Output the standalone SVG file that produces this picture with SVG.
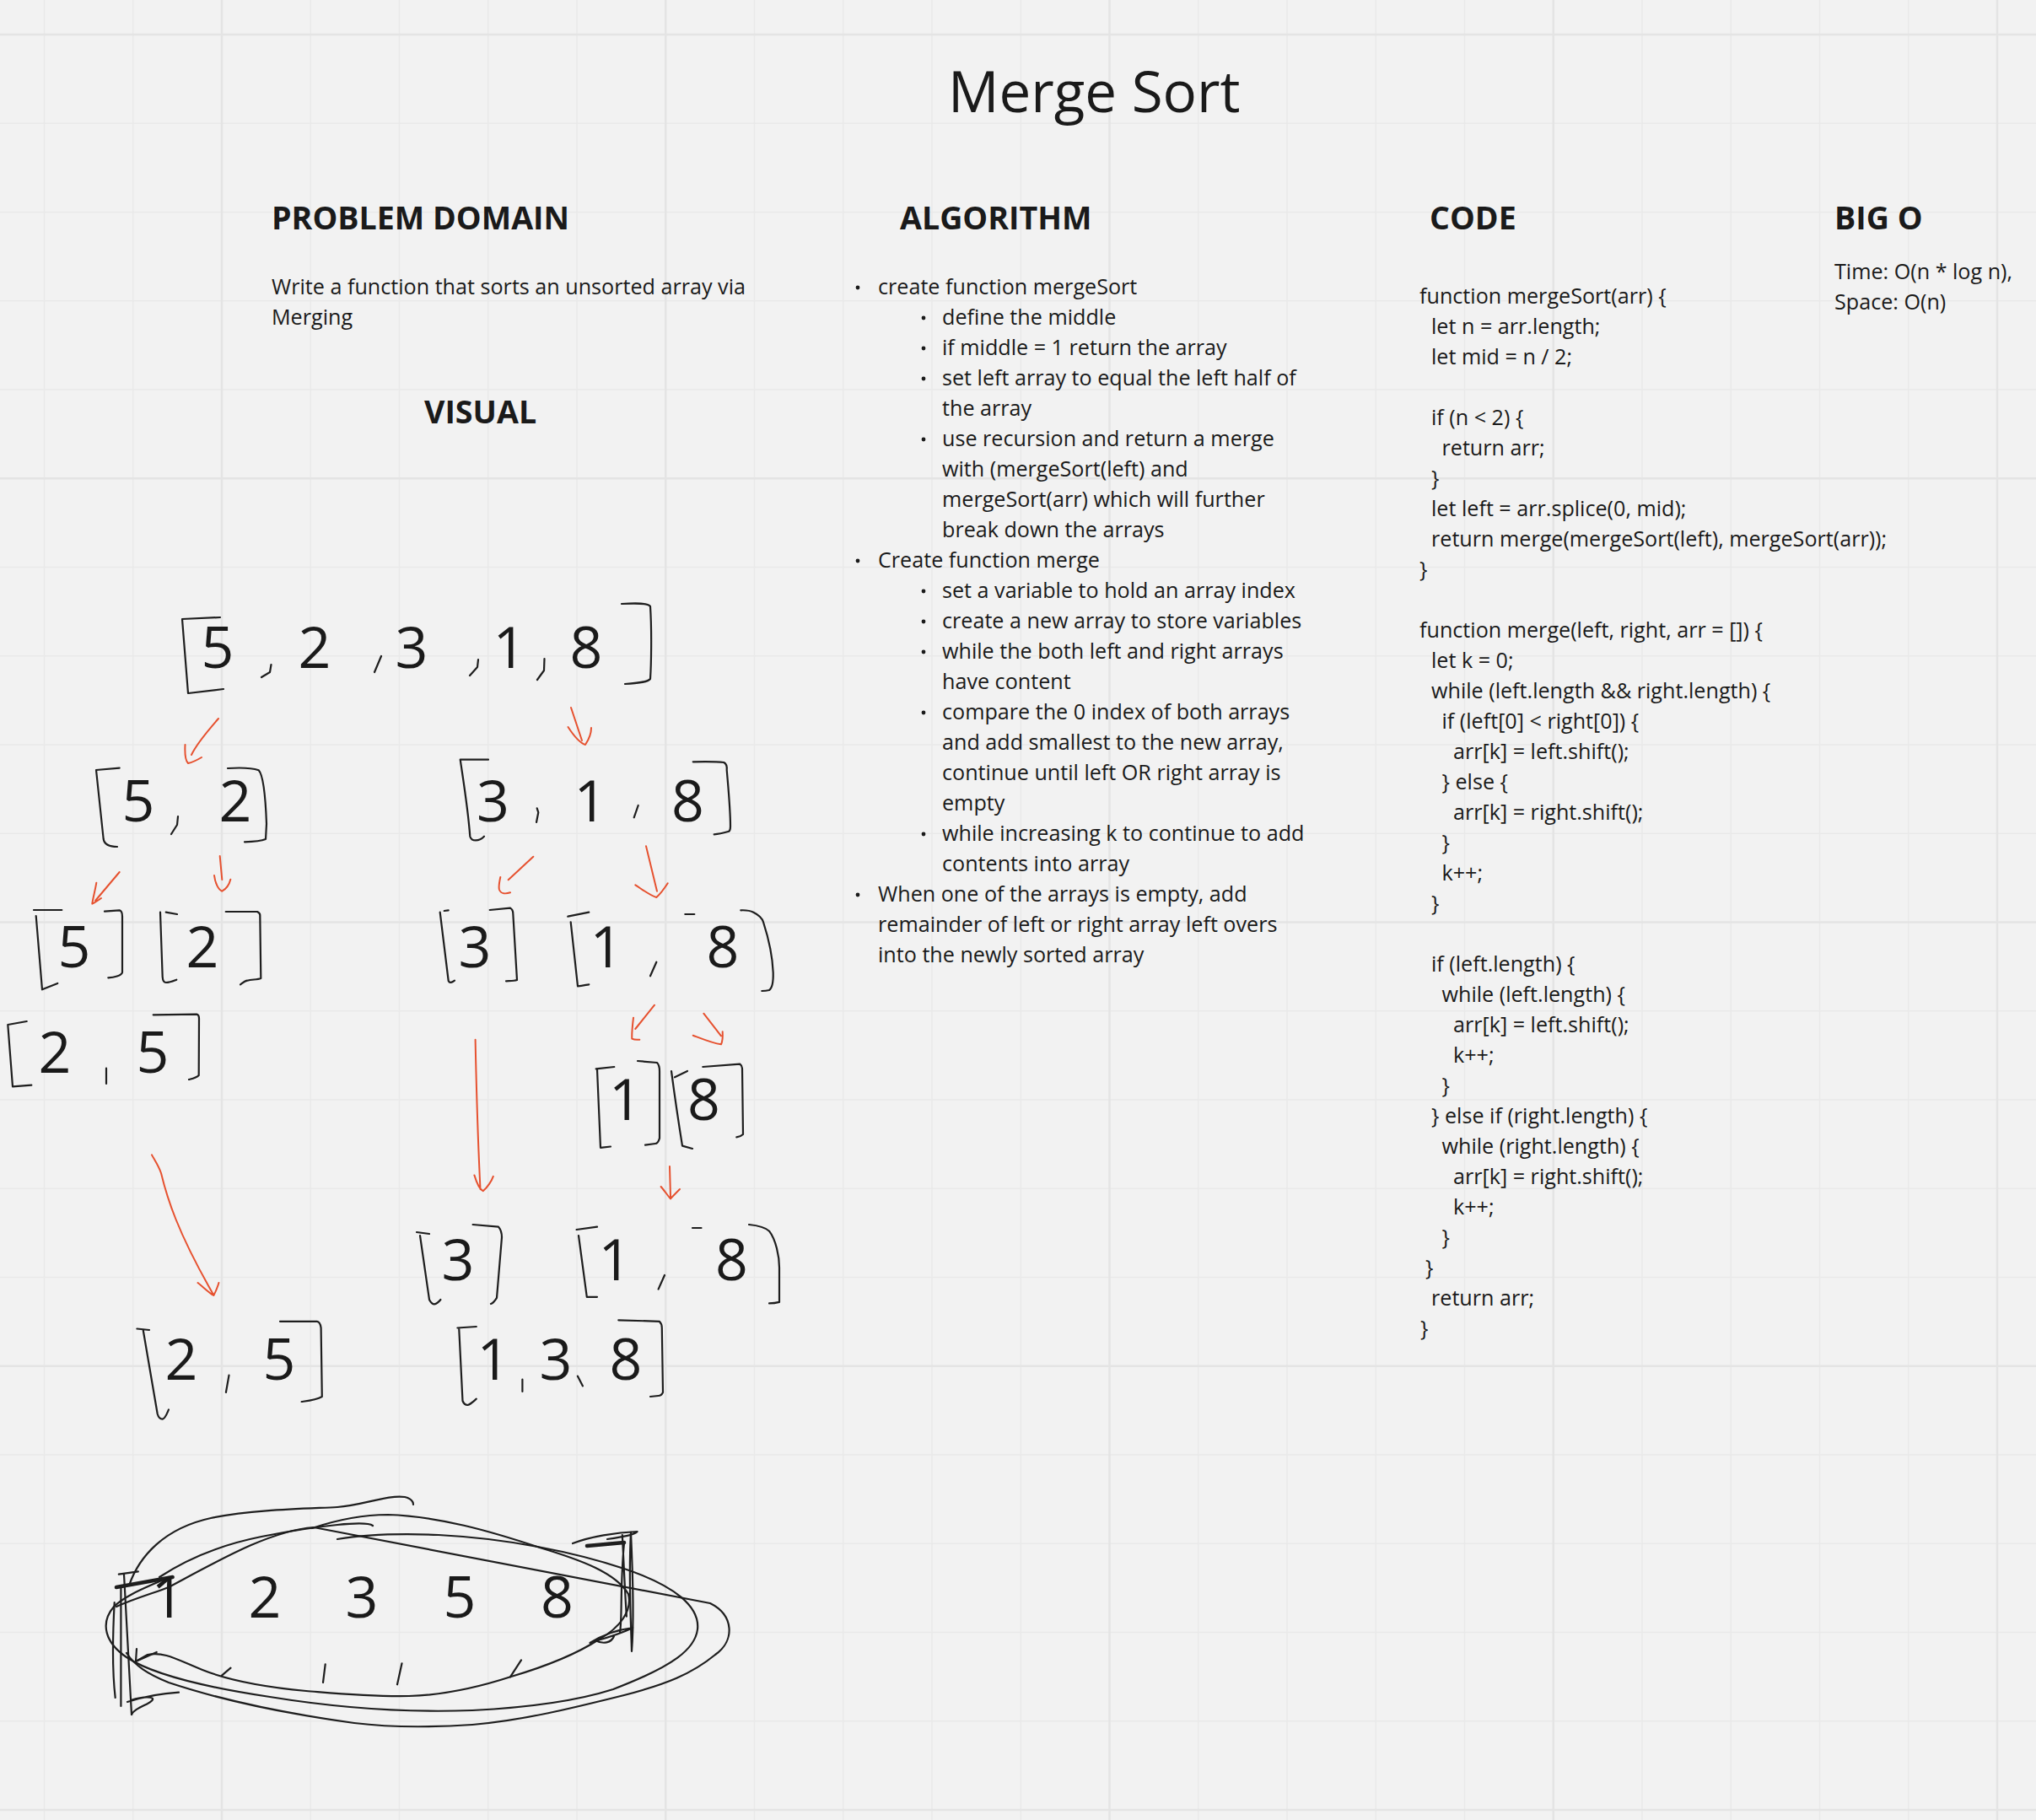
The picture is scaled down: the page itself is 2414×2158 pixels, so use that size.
<svg xmlns="http://www.w3.org/2000/svg" width="2414" height="2158" viewBox="0 0 2414 2158">
<style>
text{font-family:"Open Sans","Liberation Sans",sans-serif;fill:#1a1a1a}
.title{font-size:67.3px}
.hdr{font-size:37.6px;font-weight:700}
.body{font-size:25.15px}
.num{font-size:68px;text-anchor:middle}
.ink{fill:none;stroke:#1e1e1e;stroke-width:2.2;stroke-linecap:round;stroke-linejoin:round}
.thick{fill:none;stroke:#1e1e1e;stroke-width:4.5;stroke-linecap:round}
.red{fill:none;stroke:#e6512f;stroke-width:2;stroke-linecap:round;stroke-linejoin:round}
.bul{fill:#1a1a1a}
.gmin{stroke:#e9e9e9;stroke-width:1.5;fill:none}
.gmaj{stroke:#e4e4e4;stroke-width:2.5;fill:none}
</style>
<rect x="0" y="0" width="2414" height="2158" fill="#f2f2f2"/>
<g id="grid">
<path class="gmin" d="M52.5,0V2158M157.75,0V2158M368.25,0V2158M473.5,0V2158M578.75,0V2158M684,0V2158M894.5,0V2158M999.75,0V2158M1105,0V2158M1210.25,0V2158M1420.75,0V2158M1526,0V2158M1631.25,0V2158M1736.5,0V2158M1947,0V2158M2052.25,0V2158M2157.5,0V2158M2262.75,0V2158M0,146.25H2414M0,251.5H2414M0,356.75H2414M0,462H2414M0,672.5H2414M0,777.75H2414M0,883H2414M0,988.25H2414M0,1198.75H2414M0,1304H2414M0,1409.25H2414M0,1514.5H2414M0,1725H2414M0,1830.25H2414M0,1935.5H2414M0,2040.75H2414"/>
<path class="gmaj" d="M263,0V2158M789.25,0V2158M1315.5,0V2158M1841.75,0V2158M2368,0V2158M0,41H2414M0,567.25H2414M0,1093.5H2414M0,1619.75H2414M0,2146H2414"/>
</g>
<g id="title"><text class="title" x="1124" y="133">Merge Sort</text></g>
<g id="problem-domain">
<text class="hdr" x="322" y="272">PROBLEM DOMAIN</text>
<text class="body" x="322" y="349">Write a function that sorts an unsorted array via</text>
<text class="body" x="322" y="385">Merging</text>
</g>
<g id="algorithm">
<text class="hdr" x="1067" y="272">ALGORITHM</text>
<circle class="bul" cx="1017" cy="341" r="2.4"/>
<circle class="bul" cx="1095" cy="377" r="2.4"/>
<circle class="bul" cx="1095" cy="413" r="2.4"/>
<circle class="bul" cx="1095" cy="449" r="2.4"/>
<circle class="bul" cx="1095" cy="521" r="2.4"/>
<circle class="bul" cx="1017" cy="665" r="2.4"/>
<circle class="bul" cx="1095" cy="701" r="2.4"/>
<circle class="bul" cx="1095" cy="737" r="2.4"/>
<circle class="bul" cx="1095" cy="773" r="2.4"/>
<circle class="bul" cx="1095" cy="845" r="2.4"/>
<circle class="bul" cx="1095" cy="989" r="2.4"/>
<circle class="bul" cx="1017" cy="1061" r="2.4"/>
<text class="body" x="1041" y="349">create function mergeSort</text>
<text class="body" x="1117" y="385">define the middle</text>
<text class="body" x="1117" y="421">if middle = 1 return the array</text>
<text class="body" x="1117" y="457">set left array to equal the left half of</text>
<text class="body" x="1117" y="493">the array</text>
<text class="body" x="1117" y="529">use recursion and return a merge</text>
<text class="body" x="1117" y="565">with (mergeSort(left) and</text>
<text class="body" x="1117" y="601">mergeSort(arr) which will further</text>
<text class="body" x="1117" y="637">break down the arrays</text>
<text class="body" x="1041" y="673">Create function merge</text>
<text class="body" x="1117" y="709">set a variable to hold an array index</text>
<text class="body" x="1117" y="745">create a new array to store variables</text>
<text class="body" x="1117" y="781">while the both left and right arrays</text>
<text class="body" x="1117" y="817">have content</text>
<text class="body" x="1117" y="853">compare the 0 index of both arrays</text>
<text class="body" x="1117" y="889">and add smallest to the new array,</text>
<text class="body" x="1117" y="925">continue until left OR right array is</text>
<text class="body" x="1117" y="961">empty</text>
<text class="body" x="1117" y="997">while increasing k to continue to add</text>
<text class="body" x="1117" y="1033">contents into array</text>
<text class="body" x="1041" y="1069">When one of the arrays is empty, add</text>
<text class="body" x="1041" y="1105">remainder of left or right array left overs</text>
<text class="body" x="1041" y="1141">into the newly sorted array</text>
</g>
<g id="code">
<text class="hdr" x="1695" y="272">CODE</text>
<text class="body" x="1683" y="360">function mergeSort(arr) {</text>
<text class="body" x="1697" y="396">let n = arr.length;</text>
<text class="body" x="1697" y="432">let mid = n / 2;</text>
<text class="body" x="1697" y="504">if (n &lt; 2) {</text>
<text class="body" x="1709.5" y="540">return arr;</text>
<text class="body" x="1697" y="576">}</text>
<text class="body" x="1697" y="612">let left = arr.splice(0, mid);</text>
<text class="body" x="1697" y="648">return merge(mergeSort(left), mergeSort(arr));</text>
<text class="body" x="1683" y="684">}</text>
<text class="body" x="1683" y="756">function merge(left, right, arr = []) {</text>
<text class="body" x="1697" y="792">let k = 0;</text>
<text class="body" x="1697" y="828">while (left.length &amp;&amp; right.length) {</text>
<text class="body" x="1709.5" y="864">if (left[0] &lt; right[0]) {</text>
<text class="body" x="1723" y="900">arr[k] = left.shift();</text>
<text class="body" x="1709.5" y="936">} else {</text>
<text class="body" x="1723" y="972">arr[k] = right.shift();</text>
<text class="body" x="1709.5" y="1008">}</text>
<text class="body" x="1709.5" y="1044">k++;</text>
<text class="body" x="1697" y="1080">}</text>
<text class="body" x="1697" y="1152">if (left.length) {</text>
<text class="body" x="1709.5" y="1188">while (left.length) {</text>
<text class="body" x="1723" y="1224">arr[k] = left.shift();</text>
<text class="body" x="1723" y="1260">k++;</text>
<text class="body" x="1709.5" y="1296">}</text>
<text class="body" x="1697" y="1332">} else if (right.length) {</text>
<text class="body" x="1709.5" y="1368">while (right.length) {</text>
<text class="body" x="1723" y="1404">arr[k] = right.shift();</text>
<text class="body" x="1723" y="1440">k++;</text>
<text class="body" x="1709.5" y="1476">}</text>
<text class="body" x="1690" y="1512">}</text>
<text class="body" x="1697" y="1548">return arr;</text>
<text class="body" x="1684" y="1584">}</text>
</g>
<g id="big-o">
<text class="hdr" x="2175" y="272">BIG O</text>
<text class="body" x="2175" y="331">Time: O(n * log n),</text>
<text class="body" x="2175" y="367">Space: O(n)</text>
</g>
<g id="visual-label"><text class="hdr" x="503" y="502">VISUAL</text></g>
<g id="array-53218">
<path class="ink" d="M261,732 L216,734 L223,822 L265,817"/>
<path class="ink" d="M737,716 C755,715 768,715 771,719 C773,750 772,790 771,805 C768,809 755,810 741,811"/>
<path class="ink" d="M321.5,788 L320,797 L310,803 M452,778 L444,797 M567,782 L566,791 L557,801 M645.5,781 L645,795 L637,806"/>
<text class="num" x="258" y="792">5</text><text class="num" x="373" y="792">2</text><text class="num" x="488" y="792">3</text><text class="num" x="604" y="792">1</text><text class="num" x="695" y="792">8</text>
</g>
<g id="array-52">
<path class="ink" d="M141.7,910.7 L114,913 L122.7,995 C124,1002 130,1004 139,1004"/>
<path class="ink" d="M211,968 L210,978 L203,989"/>
<path class="ink" d="M270,911 C285,910 300,911 306.7,913.3 C313,920 315,950 316,976.7 L315,995 C310,997 300,998 290,998.3"/>
<text class="num" x="164" y="974">5</text><text class="num" x="279" y="974">2</text>
</g>
<g id="array-318">
<path class="ink" d="M579,900.7 L545.7,900.7 C550,930 555,960 557.3,991.7 C559,998 568,998 574,991.7"/>
<path class="ink" d="M636.7,958.3 L638.3,963.3 L636,975 M756.7,955 L751.7,969.3"/>
<path class="ink" d="M821.7,903.3 C835,903 850,903 858.3,904 C862,906 862,910 861.7,913 C864,940 866,960 866,980 C866,985 864,986 863.3,986 C856,988 850,989 846.7,989.3"/>
<text class="num" x="584.5" y="974">3</text><text class="num" x="700" y="974">1</text><text class="num" x="815.5" y="974">8</text>
</g>
<g id="array-5">
<path class="ink" d="M40,1079 L73.3,1079 M42.7,1086 L50,1173.3 L68.3,1166"/>
<path class="ink" d="M124,1080.7 L141.7,1079.3 C144,1080 145,1083 145,1086.7 L145,1153 C144,1157 135,1159 128.3,1159.3"/>
<text class="num" x="88" y="1147">5</text>
</g>
<g id="array-2">
<path class="ink" d="M196.7,1081.7 L210,1084 M190,1081.7 L192.7,1158.3 C193,1163 195,1165 196.7,1165 C202,1165 206,1163 209.3,1161.7"/>
<path class="ink" d="M267.7,1081 L305,1081 C307,1082 308.3,1083 308.3,1085 L309.3,1160 C305,1162 298,1161 293.3,1162.7 C290,1163 287,1166 285,1167.3"/>
<text class="num" x="240" y="1147">2</text>
</g>
<g id="array-3">
<path class="ink" d="M526.7,1080 L531.7,1079.3 M521.7,1081.7 L531.7,1163 C533,1166 536,1165 539,1162.7"/>
<path class="ink" d="M580.7,1079 L605,1076.7 C607,1078 608.3,1080 608.3,1083.3 L613,1162 C610,1163 605,1163 600,1163.3"/>
<text class="num" x="563" y="1147">3</text>
</g>
<g id="array-18">
<path class="ink" d="M673.3,1086.7 L698.3,1081.7 M676.7,1093.3 L685,1169.3 C690,1169 694,1168 698.3,1167.3"/>
<path class="ink" d="M778.3,1140.7 L771,1157.3 M812.3,1084 L823.3,1084"/>
<path class="ink" d="M878.3,1079.3 C885,1079 890,1080 893.3,1081.7 C900,1085 904,1090 905,1093.3 C912,1115 916,1135 916.7,1153.3 C917,1165 915,1172 912,1174 C908,1175 905,1175 903.3,1175"/>
<text class="num" x="719" y="1147">1</text><text class="num" x="857" y="1147">8</text>
</g>
<g id="array-25-a">
<path class="ink" d="M31.7,1211 L9.3,1215 L15,1288.3 L37.3,1286.7"/>
<path class="ink" d="M126,1266.7 L126,1285"/>
<path class="ink" d="M181.7,1203.3 L233.3,1202.7 C235,1203 236,1205 236,1208 L235.7,1275 C233,1278 228,1279 224,1280"/>
<text class="num" x="65" y="1272">2</text><text class="num" x="181" y="1272">5</text>
</g>
<g id="array-1">
<path class="ink" d="M706.7,1267.3 L728.3,1265 M708,1268 L712,1360.8 L724,1359.5"/>
<path class="ink" d="M756,1258 L779,1260 C781,1262 782,1265 782,1270 L782,1349.6 C781,1353 779,1356 777,1356 L765,1357.7"/>
<text class="num" x="741.5" y="1328">1</text>
</g>
<g id="array-8">
<path class="ink" d="M800,1277.3 L815,1270 M796,1270 C800,1300 806,1340 809,1358.6 L821,1362"/>
<path class="ink" d="M833.3,1265 L877.3,1261.7 C879,1263 880,1264 880,1266.7 L881,1345 C879,1347 876,1348 873.3,1348.3"/>
<text class="num" x="834.5" y="1328">8</text>
</g>
<g id="array-3-b">
<path class="ink" d="M494,1461 L509,1463 M498,1465 L509,1541 C511,1545 513,1546.4 515,1546.4 C518,1546 520,1544 522.4,1541"/>
<path class="ink" d="M560.6,1452 L591,1454.6 C593,1457 595,1462 595,1467 L589,1538.8 C587,1542 585,1545 582,1546"/>
<text class="num" x="543" y="1518">3</text>
</g>
<g id="array-18-b">
<path class="ink" d="M683.6,1458 L708,1454.6 M686,1465 L695.8,1537.8 L708,1537.8"/>
<path class="ink" d="M788,1512 L780.6,1528.6 M821,1456 L831.5,1456"/>
<path class="ink" d="M888,1452 C898,1453 907,1455 912,1459.7 C920,1470 924,1490 924,1503 L924,1543.9 C920,1545 916,1545.4 912,1545.4"/>
<text class="num" x="729" y="1518">1</text><text class="num" x="867.5" y="1518">8</text>
</g>
<g id="array-25-b">
<path class="ink" d="M162.4,1575.5 L177,1577 M169.7,1577 L186.7,1676.5 C188,1681 190,1682.7 192.7,1682.7 C196,1682 198,1676 200,1671.4"/>
<path class="ink" d="M271.5,1630.6 L267.9,1651"/>
<path class="ink" d="M332,1566.8 L375.8,1566.8 C378,1567 380,1570 380.6,1574.5 L381.8,1656 C375,1660 365,1661 357.6,1662"/>
<text class="num" x="215" y="1636">2</text><text class="num" x="331" y="1636">5</text>
</g>
<g id="array-138">
<path class="ink" d="M542.4,1574.5 L564.8,1573 M544.2,1574.5 L548.5,1661 C550,1665 552,1666 554.5,1666 C558,1665 561,1662 564.8,1658.7"/>
<path class="ink" d="M619.4,1635.7 L619.4,1650 M684.8,1631.6 L691,1643.4"/>
<path class="ink" d="M733.3,1565.3 L781.8,1566.8 C783,1568 784.8,1570 784.8,1574.5 L786,1651 C785,1653 783,1655 780.6,1655 L771,1656"/>
<text class="num" x="585" y="1636">1</text><text class="num" x="659" y="1636">3</text><text class="num" x="742" y="1636">8</text>
</g>
<g id="array-final">
<path class="ink" d="M153,1880 C165,1845 195,1812 250,1800 C300,1790 360,1789 400,1787 C430,1785 460,1772 480,1775 C488,1777 490,1781 490,1784"/>
<path class="ink" d="M189,1870 C230,1843 270,1830 310,1822 C350,1814 380,1810 400,1808 C420,1806 438,1806 442,1809"/>
<path class="ink" d="M138,1905 C160,1895 185,1888 200,1882 C260,1850 320,1815 372,1811 L842,1901 C870,1915 872,1945 848,1962 C820,1985 790,1997 740,2010 C680,2025 620,2040 560,2045 C500,2049 460,2048 420,2043 C340,2032 260,2015 200,1995 C175,1985 160,1975 150,1960"/>
<path class="ink" d="M400,1825 C430,1820 470,1818 520,1820 C600,1824 680,1840 740,1860 C800,1880 830,1905 827,1932 C824,1955 800,1975 727,2003 C680,2018 620,2025 560,2028 C480,2031 400,2025 320,2012 C240,2000 180,1985 150,1965 C125,1948 118,1925 135,1905 C150,1890 180,1880 200,1870"/>
<path class="ink" d="M370,1812 C400,1802 430,1796 460,1796 C520,1798 580,1815 640,1835 C690,1850 730,1865 745,1890 C750,1910 735,1930 710,1944 C690,1957 660,1972 606,1988 C560,2003 520,2010 485,2011 C440,2012 400,2008 363,2005 C310,2000 270,1992 240,1980 C210,1968 195,1958 175,1962 L161,1970 L162,1955"/>
<path class="ink" d="M140.8,1866.7 L163.8,1863.3 M147,1866.7 L156,2033 M135.7,1900 C133,1950 134,1990 136.7,2013 M143.4,1880 L143.4,2023 M151,2018 C170,2012 190,2008 212,2006.7 M155,2016 C175,2010 190,2012 175,2020 C165,2025 158,2028 156,2033 M161,1970 L185.7,1959"/>
<path class="thick" d="M138,1882 L204.6,1870 M696,1833 L740,1829"/>
<path class="ink" d="M679,1830 C700,1822 730,1817 755.6,1816 C752,1820 740,1822 720,1825 M737.8,1820 C740,1860 741,1890 742.9,1916.7 M748,1816.7 C745,1870 748,1920 749,1958 C752,1920 750,1860 748,1817 M740,1830 C735,1880 738,1920 735,1935 M699.5,1948 C715,1938 735,1932 750.5,1930 C740,1935 720,1942 705,1946 M706,1945 C715,1950 725,1948 728,1940"/>
<path class="ink" d="M263,1986.7 L273.5,1977.7 M383,1995 L385.7,1973.3 M471,1997.3 L476.5,1972.3 M605,1988.3 L618,1968.3"/>
<text class="num" x="199" y="1918">1</text><text class="num" x="314" y="1918">2</text><text class="num" x="429" y="1918">3</text><text class="num" x="545" y="1918">5</text><text class="num" x="660.5" y="1918">8</text>
</g>
<g id="connectors">
<path class="red" d="M259,852 C245,868 233,882 227,895 M219.5,883 C219,893 220,902 223,905 C228,904 234,901 239,898"/>
<path class="red" d="M677,839 L690,878 M673.5,862 C680,872 688,881 694,883 C698,877 701,870 701,863"/>
<path class="red" d="M141.7,1034 L113,1068 M114.3,1046.7 C113,1055 110,1066 109.3,1071.7 C113,1070 117,1067 120,1065"/>
<path class="red" d="M260.7,1015 L263.3,1043 M254,1038 C255,1047 259,1055 263.3,1056.7 C268,1054 272,1048 273.3,1042.7"/>
<path class="red" d="M632.3,1015.7 L602.7,1043.3 M593.3,1040 C592,1046 591,1052 592,1055 C594,1060 600,1060 605,1058.3"/>
<path class="red" d="M766,1003.3 L779,1056.7 M753.3,1049.3 C762,1055 771,1062 778.3,1064 C783,1060 788,1053 791.7,1047.3"/>
<path class="red" d="M776,1191.7 L753.3,1220 M751,1206.7 C750,1215 749,1225 749.3,1231.7 C752,1233 755,1233 758.3,1232.7"/>
<path class="red" d="M834.3,1201.7 L855,1228.3 M821.7,1227.7 C833,1232 845,1237 855,1238.3 C857,1234 857,1228 856.7,1223.3"/>
<path class="red" d="M563.6,1232.7 C565,1300 567,1360 569.5,1410 M562.4,1393.4 C565,1402 568,1410 572.7,1412.2 C578,1408 583,1400 584.8,1394.9"/>
<path class="red" d="M794,1383 L795,1419 M783.6,1407 C788,1412 792,1418 795,1421.4 C799,1417 803,1413 806,1410"/>
<path class="red" d="M180,1369.4 C183,1375 188,1382 191,1391 C198,1420 210,1460 253,1535 M234.5,1521 C242,1527 248,1533 253.3,1536 C256,1531 258,1526 259.4,1521"/>
</g>
</svg>
